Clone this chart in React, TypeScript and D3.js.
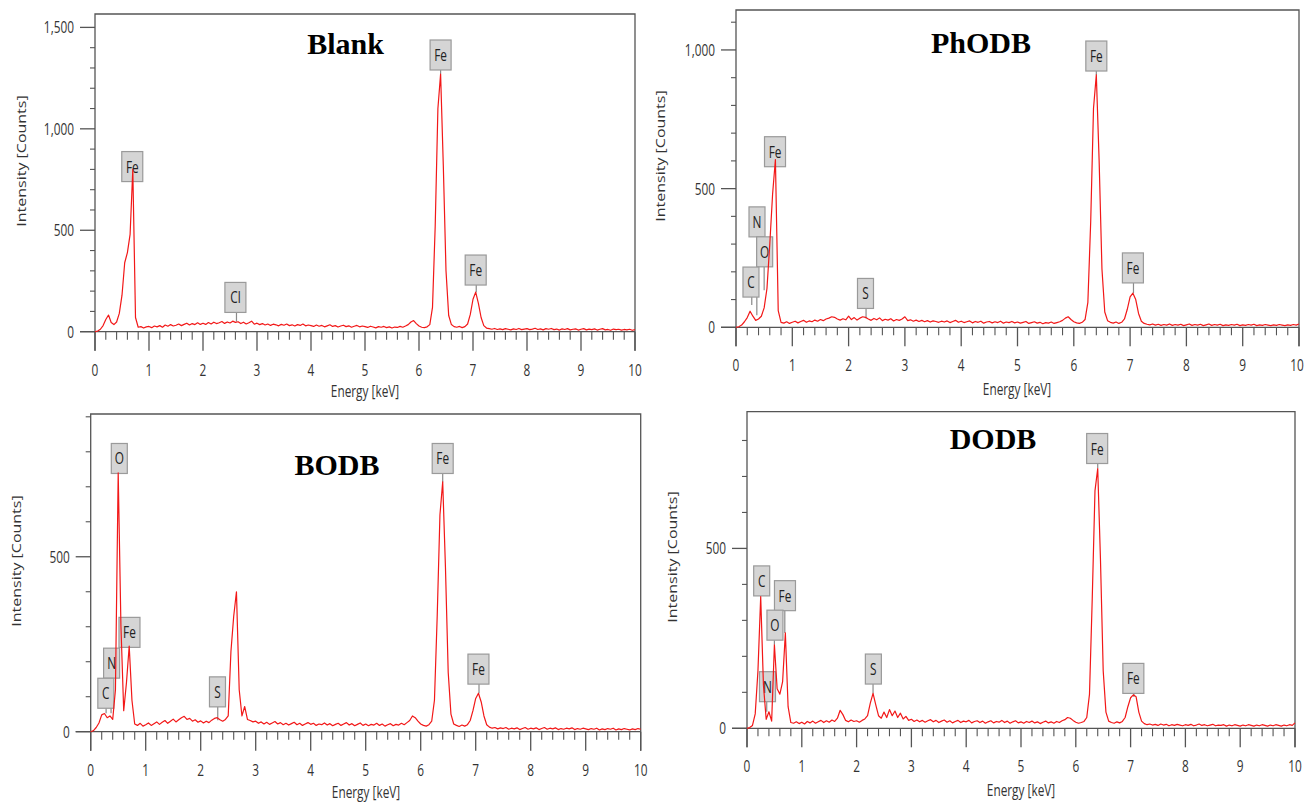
import React from 'react';
import * as d3 from 'd3';

// energy channel width (keV) of the counts arrays below
const STEP = 0.05;

// counts per channel, 0.00 .. 10.00 keV
const BLANK = [
  0, 3, 12, 30, 60, 82, 45, 35, 48, 90, 180, 340, 390, 480, 800, 70, 22, 25, 18, 24,
  26, 20, 28, 24, 30, 22, 33, 27, 35, 28, 32, 38, 30, 36, 42, 33, 40, 35, 44, 36,
  42, 36, 45, 38, 47, 40, 44, 50, 41, 48, 43, 52, 46, 49, 40, 47, 38, 44, 52, 37,
  42, 35, 40, 33, 38, 31, 37, 34, 29, 36, 32, 38, 30, 34, 28, 35, 31, 38, 29, 33,
  30, 26, 33, 27, 31, 24, 29, 34, 26, 30, 23, 28, 32, 25, 29, 22, 27, 31, 24, 28,
  25, 21, 27, 23, 19, 25, 22, 26, 20, 24, 18, 23, 21, 26, 22, 28, 35, 48, 55, 40,
  28, 22, 20, 24, 35, 120, 520, 1100, 1270, 820, 300, 80, 35, 25, 22, 26, 20, 25, 38, 85,
  160, 195, 140, 70, 30, 18, 15, 12, 16, 11, 14, 10, 15, 12, 9, 14, 11, 16, 10, 13,
  15, 10, 13, 17, 11, 14, 9, 15, 12, 16, 10, 13, 8, 14, 11, 15, 9, 12, 14, 8,
  12, 15, 9, 13, 10, 14, 8, 12, 15, 9, 11, 7, 13, 10, 12, 8, 11, 9, 12, 7, 10,
];

const PHODB = [
  0, 2, 8, 20, 35, 58, 40, 25, 30, 40, 70, 140, 300, 480, 605, 60, 18, 15, 20, 14,
  18, 22, 16, 21, 25, 18, 23, 20, 26, 22, 28, 24, 30, 33, 38, 36, 30, 26, 31, 27,
  40, 28, 35, 26, 33, 38, 36, 30, 25, 32, 27, 34, 24, 29, 26, 31, 23, 28, 25, 30,
  38, 24, 27, 22, 26, 21, 25, 20, 24, 19, 23, 21, 18, 22, 19, 23, 17, 21, 25, 18,
  22, 17, 20, 23, 16, 21, 18, 22, 15, 19, 21, 16, 20, 17, 22, 15, 19, 17, 21, 16,
  19, 15, 18, 21, 14, 17, 20, 15, 18, 13, 17, 15, 19, 14, 17, 20, 25, 33, 38, 28,
  20, 16, 14, 18, 28, 90, 380, 790, 910, 600, 210, 55, 24, 18, 15, 19, 14, 18, 30, 65,
  110, 123, 100, 50, 22, 14, 11, 9, 12, 8, 11, 7, 10, 8, 12, 7, 10, 8, 11, 6,
  9, 12, 7, 10, 8, 11, 6, 9, 12, 7, 10, 8, 11, 6, 9, 7, 10, 8, 11, 6,
  9, 7, 10, 8, 11, 6, 9, 7, 10, 8, 6, 9, 7, 10, 8, 6, 9, 7, 10, 8, 12,
];

const BODB = [
  0, 3, 12, 25, 48, 52, 40, 45, 35, 120, 740, 300, 60, 140, 245, 90, 22, 18, 24, 16,
  20, 25, 18, 23, 28, 21, 27, 32, 24, 30, 36, 28, 34, 40, 44, 35, 38, 30, 34, 27,
  31, 25, 30, 26, 33, 38, 40, 34, 30, 35, 45, 230, 330, 400, 120, 45, 72, 35, 32, 28,
  30, 24, 28, 22, 27, 21, 25, 29, 22, 26, 20, 24, 19, 23, 27, 20, 24, 18, 22, 26,
  21, 24, 18, 22, 20, 25, 19, 23, 17, 21, 24, 18, 22, 26, 19, 23, 17, 21, 25, 18,
  22, 17, 21, 19, 24, 18, 22, 16, 20, 23, 17, 21, 19, 24, 20, 26, 32, 45, 40, 30,
  22, 18, 16, 20, 30, 90, 330, 620, 714, 470, 170, 50, 22, 18, 15, 19, 16, 20, 32, 60,
  95, 110, 85, 45, 20, 13, 10, 12, 8, 11, 9, 12, 7, 10, 8, 11, 6, 9, 12, 7,
  10, 8, 11, 6, 9, 12, 7, 10, 8, 11, 6, 9, 7, 10, 8, 11, 6, 9, 7, 10,
  8, 6, 9, 7, 10, 5, 8, 6, 9, 7, 10, 5, 8, 6, 9, 7, 5, 8, 6, 9, 7,
];

const DODB = [
  0, 2, 8, 40, 160, 366, 120, 25, 46, 20, 232, 110, 95, 130, 265, 60, 16, 14, 18, 13,
  17, 12, 19, 15, 20, 14, 18, 22, 16, 21, 17, 23, 19, 28, 50, 38, 22, 18, 23, 19,
  21, 17, 22, 26, 35, 70, 97, 65, 35, 28, 45, 30, 52, 35, 48, 30, 42, 26, 33, 22,
  25, 19, 23, 18, 22, 17, 21, 24, 18, 22, 16, 20, 23, 17, 21, 15, 19, 22, 16, 20,
  18, 22, 15, 19, 21, 16, 20, 14, 18, 21, 15, 19, 17, 22, 16, 20, 14, 18, 21, 15,
  18, 14, 19, 16, 20, 15, 18, 13, 17, 20, 15, 18, 14, 19, 16, 21, 24, 30, 28, 22,
  17, 14, 16, 19, 30, 95, 360, 660, 722, 470, 160, 45, 20, 16, 14, 18, 15, 19, 30, 60,
  85, 93, 88, 45, 20, 13, 10, 12, 9, 11, 8, 12, 9, 11, 7, 10, 8, 11, 9, 7,
  10, 8, 11, 7, 9, 12, 8, 10, 7, 9, 11, 7, 9, 8, 10, 6, 9, 7, 10, 8,
  6, 9, 7, 10, 8, 6, 9, 7, 10, 8, 6, 9, 7, 10, 8, 6, 9, 7, 10, 8, 15,
];

// element labels: line energy, box centre energy, box bottom (counts), pointer end (counts)
const BLANK_LABELS = [
  { el: 'Fe', at: 0.7, box: 0.69, bottom: 740, end: 740 },
  { el: 'Cl', at: 2.62, box: 2.6, bottom: 95, end: 50 },
  { el: 'Fe', at: 6.4, box: 6.4, bottom: 1290, end: 1270 },
  { el: 'Fe', at: 7.06, box: 7.05, bottom: 230, end: 195 },
];
const PHODB_LABELS = [
  { el: 'N', at: 0.37, box: 0.373, bottom: 326, end: 43 },
  { el: 'O', at: 0.5, box: 0.509, bottom: 218, end: 134 },
  { el: 'C', at: 0.28, box: 0.266, bottom: 109, end: 80 },
  { el: 'Fe', at: 0.7, box: 0.693, bottom: 579, end: 579 },
  { el: 'S', at: 2.31, box: 2.3, bottom: 68, end: 32 },
  { el: 'Fe', at: 6.4, box: 6.4, bottom: 924, end: 910 },
  { el: 'Fe', at: 7.06, box: 7.05, bottom: 160, end: 123 },
];
const BODB_LABELS = [
  { el: 'O', at: 0.52, box: 0.52, bottom: 738, end: 738 },
  { el: 'Fe', at: 0.7, box: 0.705, bottom: 241, end: 241 },
  { el: 'N', at: 0.37, box: 0.38, bottom: 153, end: 53 },
  { el: 'C', at: 0.28, box: 0.275, bottom: 67, end: 53 },
  { el: 'S', at: 2.31, box: 2.305, bottom: 71, end: 33 },
  { el: 'Fe', at: 6.4, box: 6.4, bottom: 738, end: 713 },
  { el: 'Fe', at: 7.06, box: 7.05, bottom: 136, end: 110 },
];
const DODB_LABELS = [
  { el: 'C', at: 0.26, box: 0.268, bottom: 368, end: 368 },
  { el: 'Fe', at: 0.69, box: 0.693, bottom: 327, end: 265 },
  { el: 'O', at: 0.5, box: 0.51, bottom: 245, end: 232 },
  { el: 'N', at: 0.36, box: 0.374, bottom: 74, end: 46 },
  { el: 'S', at: 2.3, box: 2.306, bottom: 123, end: 97 },
  { el: 'Fe', at: 6.4, box: 6.39, bottom: 736, end: 723 },
  { el: 'Fe', at: 7.06, box: 7.05, bottom: 97, end: 87 },
];

const TITLES = ['Blank', 'PhODB', 'BODB', 'DODB'];
const X_DOMAIN = [0, 10];
const Y_MAX = [1566, 1144, 908, 880];
const Y_MAJOR = [500, 500, 500, 500];
const Y_MINOR = 100;
const X_TITLE = 'Energy [keV]';
const Y_TITLE = 'Intensity [Counts]';

const SERIES = [BLANK, PHODB, BODB, DODB];
const LABELS = [BLANK_LABELS, PHODB_LABELS, BODB_LABELS, DODB_LABELS];

// layout of the four panels (pixels)
const LAYOUT = [
  { left: 95, right: 635, top: 14, bottom: 331.7, tx: 345.5, ty: 54, yx: 21, yy: 161, xx: 365, xy: 397 },
  { left: 736, right: 1299, top: 10, bottom: 327.3, tx: 981, ty: 53, yx: 660, yy: 156, xx: 1017, xy: 395 },
  { left: 90.7, right: 640.7, top: 414, bottom: 731.7, tx: 337, ty: 475, yx: 16, yy: 561, xx: 366, xy: 798 },
  { left: 747, right: 1295, top: 411.7, bottom: 728.3, tx: 993, ty: 449, yx: 672, yy: 557, xx: 1021, xy: 796 },
];

const SANS = '"Open Sans", "Noto Sans", sans-serif';
const SQUEEZE = 0.74;
const AXIS = '#555';
const PAGE_W = 1304;

function SText(props: any) {
  const { x, y, anchor = 'middle', size = 16, rotate, fill = '#333', children } = props;
  return (
    <text
      transform={`translate(${x},${y}) scale(${SQUEEZE},1)${rotate ? ` rotate(${rotate})` : ''}`}
      textAnchor={anchor}
      fontFamily={SANS}
      fontSize={size}
      fill={fill}
    >
      {children}
    </text>
  );
}

function Panel({ idx }: { idx: number }) {
  const L = LAYOUT[idx];
  const data = SERIES[idx];
  const labels = LABELS[idx];
  const x = d3.scaleLinear().domain(X_DOMAIN).range([L.left, L.right]);
  const y = d3.scaleLinear().domain([0, Y_MAX[idx]]).range([L.bottom, L.top]);
  const line = d3
    .line<number>()
    .x((_, i) => x(i * STEP))
    .y((d) => y(d));
  const fmt = d3.format(',');
  const xMajor = d3.range(X_DOMAIN[0], X_DOMAIN[1] + 0.001, 1);
  const xMinor = d3.range(0.2, X_DOMAIN[1], 0.2).filter((v) => Math.abs(v - Math.round(v)) > 0.01);
  const yMajor = d3.range(0, Y_MAX[idx], Y_MAJOR[idx]);
  const yMinor = d3.range(0, Y_MAX[idx], Y_MINOR).filter((v) => v % Y_MAJOR[idx] !== 0);
  const y0 = y(0);
  return (
    <g>
      {/* frame */}
      <path
        d={`M${L.left},${y0 + 19} V${L.top} H${L.right} V${y0 + 19}`}
        fill="none"
        stroke={AXIS}
        strokeWidth={1.3}
      />
      <line x1={L.left - 15} x2={L.right} y1={y0} y2={y0} stroke={AXIS} strokeWidth={1.3} />
      {xMajor.map((v) => (
        <g key={'xm' + v}>
          <line x1={x(v)} x2={x(v)} y1={y0} y2={y0 + 19} stroke={AXIS} strokeWidth={1.3} />
          <SText x={Math.min(x(v), PAGE_W - 7)} y={y0 + 44}>{String(v)}</SText>
        </g>
      ))}
      {xMinor.map((v) => (
        <line key={'xn' + v} x1={x(v)} x2={x(v)} y1={y0} y2={y0 + 8} stroke={AXIS} strokeWidth={1.1} />
      ))}
      {yMajor.map((v) => (
        <g key={'ym' + v}>
          <line x1={L.left - 15} x2={L.left} y1={y(v)} y2={y(v)} stroke={AXIS} strokeWidth={1.3} />
          <SText x={L.left - 21} y={y(v) + 6} anchor="end">{fmt(v)}</SText>
        </g>
      ))}
      {yMinor.map((v) => (
        <line key={'yn' + v} x1={L.left - 5} x2={L.left} y1={y(v)} y2={y(v)} stroke={AXIS} strokeWidth={1.1} />
      ))}
      <SText x={L.xx} y={L.xy}>{X_TITLE}</SText>
      <SText x={L.yx + 5} y={L.yy} rotate={-90}>{Y_TITLE}</SText>
      <text
        x={L.tx}
        y={L.ty}
        textAnchor="middle"
        fontFamily='"Liberation Serif", "Times New Roman", serif'
        fontWeight="bold"
        fontSize={30}
        fill="#000"
      >
        {TITLES[idx]}
      </text>
      {/* element labels */}
      {labels.map((lb, i) => {
        const w = lb.el.length > 1 ? 21 : 16;
        const h = 30;
        const bx = x(lb.box);
        const by = y(lb.bottom);
        return (
          <g key={'lb' + i}>
            {lb.end < lb.bottom && (
              <line x1={x(lb.at)} x2={x(lb.at)} y1={by} y2={y(lb.end)} stroke="#8a8a8a" strokeWidth={1.2} />
            )}
            <rect
              x={bx - w / 2}
              y={by - h}
              width={w}
              height={h}
              fill="#d5d5d5"
              stroke="#9a9a9a"
              strokeWidth={1.2}
            />
            <SText x={bx} y={by - h / 2 + 6} size={16} fill="#222">
              {lb.el}
            </SText>
          </g>
        );
      })}
      <path d={line(data) || ''} fill="none" stroke="#f21818" strokeWidth={1.2} strokeLinejoin="round" />
    </g>
  );
}

export default function App() {
  return (
    <svg
      width={1304}
      height={802}
      style={{ position: 'absolute', left: 0, top: 0, background: '#fff' }}
    >
      <rect x={0} y={0} width={1304} height={802} fill="#fff" />
      {[0, 1, 2, 3].map((i) => (
        <Panel key={i} idx={i} />
      ))}
    </svg>
  );
}
